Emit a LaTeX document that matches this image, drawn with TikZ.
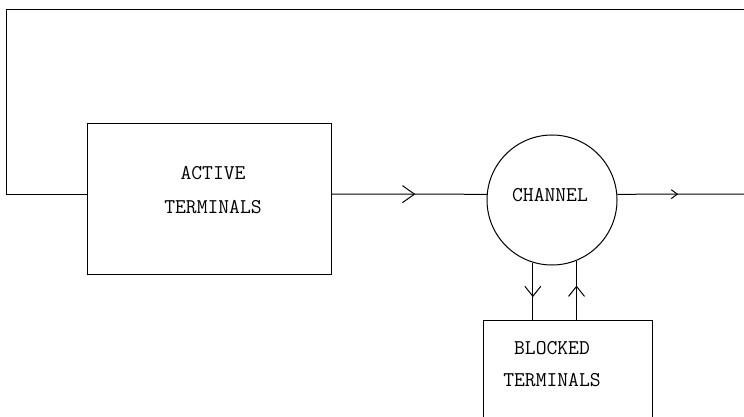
\documentclass[tikz,border=0pt]{standalone}
\usetikzlibrary{arrows.meta,decorations.markings}
\begin{document}
\begin{tikzpicture}[x=1pt,y=-1pt,
  box/.style={draw, line width=1pt, inner sep=0pt},
  lbl/.style={font=\fontsize{21}{34}\selectfont\ttfamily, align=center, inner sep=0pt},
  wire/.style={line width=1pt},
  midarrow/.style 2 args={postaction={decorate},decoration={markings, mark=at position #1 with {\arrow[line width=1pt]{#2}}}},
  bigbarb/.style={},
]
\clip (0,0) rectangle (744,417);
\node[box, minimum width=244pt, minimum height=150pt] (active) at (209,199) {};
\node[lbl] (activetext) at (213,190) {ACTIVE\\TERMINALS};
\node[draw, circle, line width=1pt, minimum size=130pt, inner sep=0pt] (channel) at (552,200) {};
\node[lbl] (channeltext) at (550,195) {CHANNEL};
\node[box, minimum width=169pt, minimum height=120pt, anchor=north] (blocked) at (567.5,320) {};
\node[lbl, font=\fontsize{21}{32}\selectfont\ttfamily] (blockedtext) at (552,364) {BLOCKED\\TERMINALS};
\coordinate (lineref) at (0,194);
\coordinate (lbend) at (6,194);
\coordinate (ltop) at (6,10);
\coordinate (rtop) at (744,10);
\coordinate (rout) at (744,194);
\draw[wire] (active.west |- lineref) -- (lbend) -- (ltop) -- (rtop);
\draw[wire, midarrow={0.54}{Straight Barb[length=12pt,width=17pt]}] (active.east |- lineref) -- (channel.175);
\draw[wire, midarrow={0.48}{Straight Barb[length=6pt,width=9pt]}] (channel.5) -- (rout);
\draw[wire, midarrow={0.6}{Straight Barb[length=10pt,width=16pt]}] (channel.253) -- (channel.253 |- blocked.north);
\draw[wire, midarrow={0.58}{Straight Barb[length=10pt,width=16pt]}] (channel.292 |- blocked.north) -- (channel.292);
\end{tikzpicture}
\end{document}
